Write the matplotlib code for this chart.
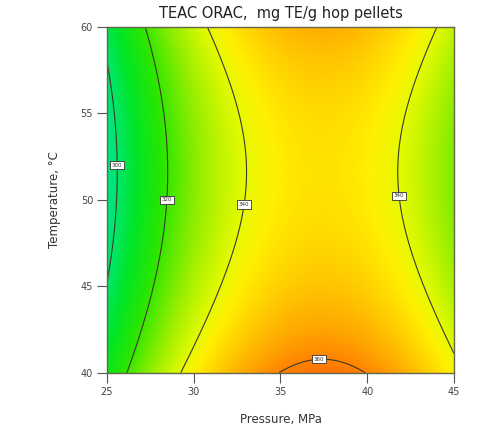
import numpy as np
import matplotlib
matplotlib.use("Agg")
import matplotlib.pyplot as plt
from matplotlib.colors import LinearSegmentedColormap

# Factor ranges
pressure_range = [25, 45]        # MPa
temperature_range = [40, 60]     # °C
pressure_ticks = [25, 30, 35, 40, 45]
temperature_ticks = [40, 45, 50, 55, 60]

# Quadratic response-surface model in coded factors
# A = (P - 35) / 10, B = (T - 50) / 10
b0 = 344.69
b_A = 15.94
b_B = -3.74
b_AB = 0.0
b_AA = -33.2
b_BB = 11.7

contour_levels = [300, 320, 340, 360]
label_points = [(25.6, 52.0), (28.4, 50.0), (33.0, 49.7), (41.7, 50.2), (37.2, 40.8)]

title = "TEAC ORAC,  mg TE/g hop pellets"
x_label = "Pressure, MPa"
y_label = "Temperature, °C"


def response(P, T):
    A = (P - 35.0) / 10.0
    B = (T - 50.0) / 10.0
    return b0 + b_A * A + b_B * B + b_AB * A * B + b_AA * A ** 2 + b_BB * B ** 2


P = np.linspace(pressure_range[0], pressure_range[1], 400)
T = np.linspace(temperature_range[0], temperature_range[1], 400)
PP, TT = np.meshgrid(P, T)
Z = response(PP, TT)

# Colour scale anchored on response values
vmin, vmax = 294.0, 364.0
anchors = [(294.0, "#00e68c"), (300.0, "#00e66a"), (308.0, "#00e628"),
           (318.0, "#28e600"), (330.0, "#96ee00"), (340.0, "#e6fa00"),
           (344.0, "#fff000"), (350.0, "#ffcd00"), (356.0, "#ffa500"),
           (364.0, "#ff6400")]
cmap = LinearSegmentedColormap.from_list(
    "rsm", [((v - vmin) / (vmax - vmin), c) for v, c in anchors])

fig = plt.figure(figsize=(4.89, 4.28), dpi=100)
ax = fig.add_axes([0.2188, 0.1292, 0.7096, 0.8084])

ax.imshow(Z, origin="lower", aspect="auto", cmap=cmap, vmin=vmin, vmax=vmax,
          extent=[pressure_range[0], pressure_range[1],
                  temperature_range[0], temperature_range[1]],
          interpolation="bilinear")
cs = ax.contour(PP, TT, Z, levels=contour_levels, colors="#3a3a28", linewidths=0.8)
labels = ax.clabel(cs, fmt="%d", fontsize=4, inline=False, manual=label_points,
                   colors="#333333")
for t in labels:
    t.set_rotation(0)
    t.set_bbox(dict(boxstyle="square,pad=0.3", facecolor="white",
                    edgecolor="#333333", linewidth=0.6))

ax.set_xlim(pressure_range)
ax.set_ylim(temperature_range)
ax.set_xticks(pressure_ticks)
ax.set_yticks(temperature_ticks)
ax.tick_params(direction="out", length=7, width=0.8, color="#555555",
               labelsize=7, labelcolor="#444444", pad=3)
for s in ax.spines.values():
    s.set_color("#66664a")
    s.set_linewidth(1.0)

ax.set_title(title, fontsize=10.5, color="#222222", pad=6)
ax.set_xlabel(x_label, fontsize=8.5, color="#333333", labelpad=12)
ax.set_ylabel(y_label, fontsize=8.5, color="#333333", labelpad=14)

fig.savefig("out.png", dpi=100)
